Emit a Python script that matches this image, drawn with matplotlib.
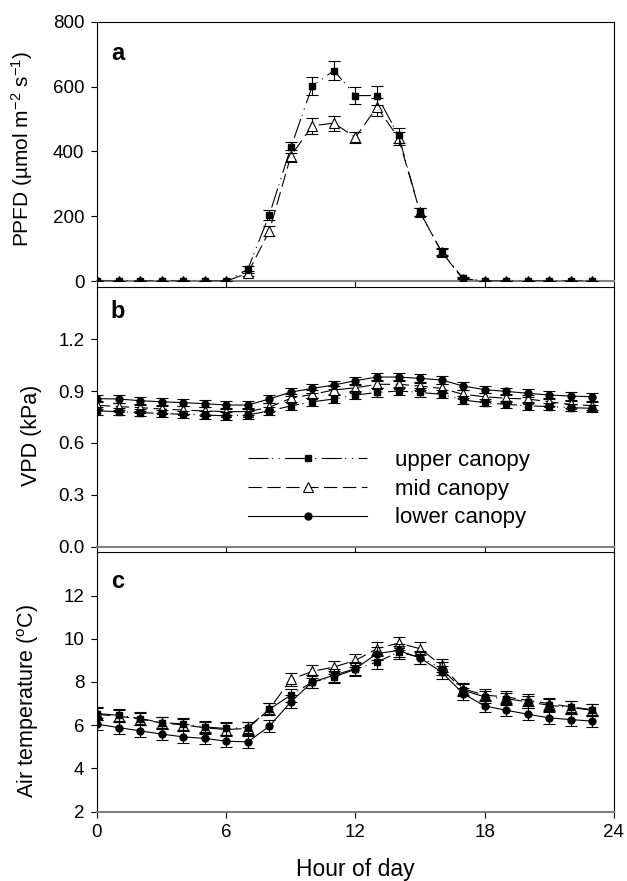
import numpy as np
import matplotlib
matplotlib.use("Agg")
import matplotlib.pyplot as plt

plt.rcParams['font.family'] = ['Liberation Sans', 'DejaVu Sans']
plt.rcParams['mathtext.fontset'] = 'custom'
plt.rcParams['mathtext.rm'] = 'Liberation Sans'
plt.rcParams['mathtext.it'] = 'Liberation Sans:italic'

# hora del dia
hours = np.arange(24)

# a) PPFD
ppfd_upper = [0, 0, 0, 0, 0, 0, 0, 36, 204, 412, 602, 649, 572, 572, 449, 212, 90, 8,
              0, 0, 0, 0, 0, 0]
ppfd_upper_err = [0, 0, 0, 0, 0, 0, 0, 10, 15, 18, 28, 30, 25, 30, 24, 12, 12, 3,
                  0, 0, 0, 0, 0, 0]
ppfd_mid = [0, 0, 0, 0, 0, 0, 0, 24, 154, 386, 479, 487, 443, 537, 441, 212, 90, 5,
            0, 0, 0, 0, 0, 0]
ppfd_mid_err = [0, 0, 0, 0, 0, 0, 0, 8, 15, 18, 25, 23, 18, 28, 20, 12, 10, 3,
                0, 0, 0, 0, 0, 0]

# b) VPD
vpd_upper = [0.785, 0.781, 0.775, 0.771, 0.765, 0.762, 0.756, 0.762, 0.785, 0.814, 0.838, 0.854,
             0.877, 0.892, 0.900, 0.892, 0.881, 0.848, 0.833, 0.823, 0.815, 0.810, 0.804, 0.800]
vpd_mid = [0.818, 0.810, 0.804, 0.796, 0.790, 0.785, 0.781, 0.781, 0.806, 0.858, 0.881, 0.906,
           0.919, 0.939, 0.939, 0.929, 0.915, 0.881, 0.867, 0.858, 0.854, 0.838, 0.823, 0.815]
vpd_lower = [0.856, 0.854, 0.844, 0.838, 0.833, 0.827, 0.819, 0.819, 0.854, 0.894, 0.915, 0.935,
             0.960, 0.981, 0.981, 0.973, 0.964, 0.929, 0.908, 0.898, 0.887, 0.877, 0.871, 0.867]
vpd_err = [0.022, 0.022, 0.022, 0.022, 0.022, 0.022, 0.022, 0.022, 0.022, 0.024, 0.024, 0.024,
           0.024, 0.024, 0.024, 0.024, 0.024, 0.024, 0.022, 0.022, 0.022, 0.022, 0.022, 0.022]

# c) temperatura del aire
temp_upper = [6.54, 6.46, 6.31, 6.12, 6.06, 5.92, 5.85, 5.89, 6.74, 7.39, 8.00, 8.23,
              8.59, 8.92, 9.38, 9.15, 8.62, 7.62, 7.31, 7.23, 7.08, 6.92, 6.82, 6.69]
temp_mid = [6.50, 6.42, 6.28, 6.10, 6.02, 5.88, 5.80, 5.85, 6.74, 8.12, 8.49, 8.69,
            9.00, 9.54, 9.80, 9.54, 8.77, 7.69, 7.39, 7.31, 7.15, 7.00, 6.85, 6.72]
temp_lower = [6.05, 5.89, 5.74, 5.59, 5.46, 5.39, 5.26, 5.23, 5.95, 7.08, 8.00, 8.31,
              8.62, 9.31, 9.46, 9.11, 8.46, 7.46, 6.89, 6.69, 6.51, 6.34, 6.26, 6.19]
temp_err = [0.28, 0.28, 0.28, 0.28, 0.28, 0.28, 0.28, 0.28, 0.28, 0.30, 0.30, 0.30,
            0.30, 0.30, 0.30, 0.30, 0.30, 0.28, 0.28, 0.28, 0.28, 0.28, 0.28, 0.28]

labels = ['upper canopy', 'mid canopy', 'lower canopy']

# estilos de cada serie
st_upper = dict(color='black', lw=0.8, ls=(0, (18, 3, 1, 5, 1, 5)), marker='s', ms=4.5,
                mfc='black', mec='black', ecolor='black', elinewidth=0.8, capsize=4, capthick=0.8,
                zorder=3)
st_mid = dict(color='black', lw=0.8, ls=(0, (12, 5)), marker='^', ms=6.5,
              mfc='white', mec='black', mew=0.8, ecolor='black', elinewidth=0.8, capsize=4,
              capthick=0.8, zorder=2)
st_lower = dict(color='black', lw=0.8, ls='-', marker='o', ms=5,
                mfc='black', mec='black', ecolor='black', elinewidth=0.8, capsize=4,
                capthick=0.8, zorder=4)

fig = plt.figure(figsize=(6.27, 8.81), dpi=100)
left, width, height = 0.1547, 0.8244, 0.2944
ax1 = fig.add_axes([left, 0.681, width, height])
ax2 = fig.add_axes([left, 0.3795, width, height])
ax3 = fig.add_axes([left, 0.0787, width, height])

ax1.errorbar(hours, ppfd_mid, yerr=ppfd_mid_err, **st_mid)
ax1.errorbar(hours, ppfd_upper, yerr=ppfd_upper_err, **st_upper)

e_mid = ax2.errorbar(hours, vpd_mid, yerr=vpd_err, **st_mid)
e_up = ax2.errorbar(hours, vpd_upper, yerr=vpd_err, **st_upper)
e_low = ax2.errorbar(hours, vpd_lower, yerr=vpd_err, **st_lower)

ax3.errorbar(hours, temp_mid, yerr=temp_err, **st_mid)
ax3.errorbar(hours, temp_upper, yerr=temp_err, **st_upper)
ax3.errorbar(hours, temp_lower, yerr=temp_err, **st_lower)

ax1.set_ylim(0, 800)
ax1.set_yticks([0, 200, 400, 600, 800])
ax2.set_ylim(0, 1.5)
ax2.set_yticks([0.0, 0.3, 0.6, 0.9, 1.2])
ax2.set_yticklabels(['0.0', '0.3', '0.6', '0.9', '1.2'])
ax3.set_ylim(2, 14)
ax3.set_yticks([2, 4, 6, 8, 10, 12])

for ax in [ax1, ax2, ax3]:
    ax.set_xlim(0, 24)
    ax.set_xticks([0, 6, 12, 18, 24])
    ax.tick_params(direction='out', length=4, width=0.8, labelsize=13.5, pad=5)
    for s in ['left', 'top', 'right']:
        ax.spines[s].set_linewidth(0.8)
    ax.spines['bottom'].set_color('#808080')
    ax.spines['bottom'].set_linewidth(1.5)
ax1.tick_params(labelbottom=False)
ax2.tick_params(labelbottom=False)

ax1.set_ylabel('PPFD (µmol m$^{-2}$ s$^{-1}$)', fontsize=15)
ax2.set_ylabel('VPD (kPa)', fontsize=15.5)
ax3.set_ylabel('Air temperature ($^{\\mathrm{o}}$C)', fontsize=15.5)
ax3.set_xlabel('Hour of day', fontsize=16.5, labelpad=12)
ax1.yaxis.set_label_coords(-0.12, 0.51)
ax2.yaxis.set_label_coords(-0.106, 0.43)
ax3.yaxis.set_label_coords(-0.108, 0.427)

ax1.text(0.027, 0.852, 'a', transform=ax1.transAxes, fontsize=17, fontweight='bold', va='baseline')
ax2.text(0.027, 0.88, 'b', transform=ax2.transAxes, fontsize=17, fontweight='bold', va='baseline')
ax3.text(0.027, 0.862, 'c', transform=ax3.transAxes, fontsize=17, fontweight='bold', va='baseline')

ax2.legend([e_up[0], e_mid[0], e_low[0]], labels, loc='center', bbox_to_anchor=(0.565, 0.222),
           frameon=False, fontsize=16, numpoints=1, handlelength=5.36, handletextpad=1.26,
           labelspacing=0.35, borderpad=0)

fig.savefig('out.png', dpi=100)
